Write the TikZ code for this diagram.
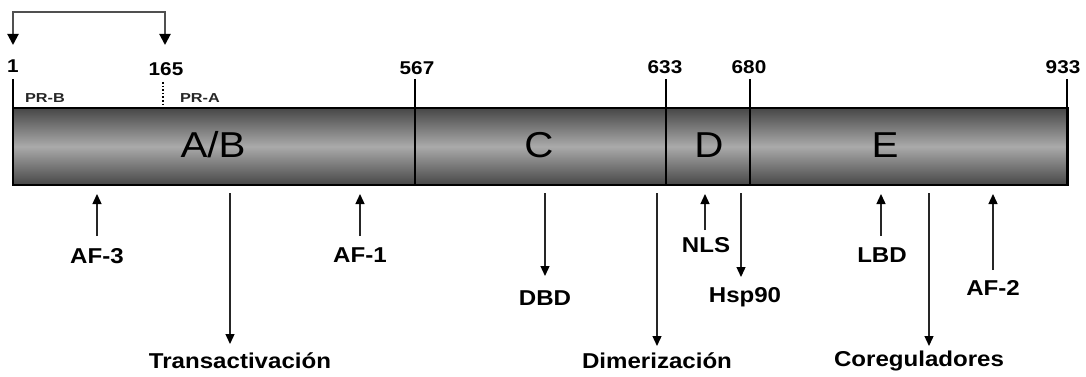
\documentclass[tikz,border=0pt]{standalone}
\usepackage{fontspec}
\setmainfont{Liberation Sans}
\newfontfamily\labfont[FakeStretch=1.12]{Liberation Sans}
\newfontfamily\prfont[FakeStretch=1.25]{Liberation Sans}
\usetikzlibrary{arrows.meta}
\definecolor{barDark}{HTML}{474747}
\definecolor{barLight}{HTML}{AAAAAA}
\definecolor{arrowGray}{HTML}{262626}
\definecolor{bracketGray}{HTML}{505050}
\begin{document}
\begin{tikzpicture}[x=1pt,y=-1pt,
  num/.style={font=\labfont\bfseries\fontsize{18.5}{20}\selectfont, inner sep=0pt, text=black},
  isoform/.style={font=\prfont\bfseries\fontsize{13}{15}\selectfont, inner sep=0pt, text=black!85},
  domletter/.style={font=\labfont\fontsize{36}{40}\selectfont, inner sep=0pt, text=black},
  lab/.style={font=\labfont\bfseries\fontsize{21.5}{24}\selectfont, inner sep=0pt, text=black},
  divider/.style={line width=2.2pt, black},
  pointer/.style={line width=1.3pt, arrowGray, -{Triangle[length=10pt,width=9pt,color=black]}},
  startbracket/.style={line width=2pt, bracketGray,
    {Triangle[length=11pt,width=11pt,color=black]}-{Triangle[length=11pt,width=11pt,color=black]}}
]
\useasboundingbox (0,0) rectangle (1086,377);

% receptor bar with shaded body
\shade[top color=barDark, bottom color=barDark, middle color=barLight]
  (13,108) rectangle (1068,185);
\draw[line width=2.4pt] (13,108) rectangle (1068,185);

% domain boundaries with their residue numbers
\coordinate (t1) at (13,79);      \coordinate (b1) at (13,185);
\coordinate (t567) at (415,79);   \coordinate (b567) at (415,185);
\coordinate (t633) at (666,79);   \coordinate (b633) at (666,185);
\coordinate (t680) at (750,79);   \coordinate (b680) at (750,185);
\coordinate (t933) at (1067,79);  \coordinate (b933) at (1067,185);
\foreach \p in {1,567,633,680,933} \draw[divider] (t\p) -- (b\p);

\node[num] (n1)   at (13,66)   {1};
\node[num] (n165) at (166,69)  {165};
\node[num] (n567) at (417,68)  {567};
\node[num] (n633) at (665,67)  {633};
\node[num] (n680) at (749,67)  {680};
\node[num] (n933) at (1063,67) {933};

% PR-A start marker
\coordinate (d1) at (163,82); \coordinate (d2) at (163,107);
\draw[line width=1.6pt, dotted] (d1) -- (d2);
\node[isoform] (prb) at (45,98)  {PR-B};
\node[isoform] (pra) at (200,98) {PR-A};

% bracket between the two start sites
\coordinate (s1) at (13,45); \coordinate (s165) at (165,45);
\draw[startbracket] (s1) -- (13,12) -- (165,12) -- (s165);

% domain letters
\node[domletter] (ab) at (213,145) {A/B};
\node[domletter] (c)  at (539,145) {C};
\node[domletter] (d)  at (709,145) {D};
\node[domletter] (e)  at (885,145) {E};

% functional labels below the bar
\node[lab] (af3)   at (97,256)  {AF-3};
\node[lab] (trans) at (240,361) {Transactivación};
\node[lab] (af1)   at (360,255) {AF-1};
\node[lab] (dbd)   at (545,298) {DBD};
\node[lab] (dim)   at (657,361) {Dimerización};
\node[lab] (nls)   at (706,245) {NLS};
\node[lab] (hsp)   at (745,297) {Hsp90};
\node[lab] (lbd)   at (882,255) {LBD};
\node[lab] (coreg) at (919,361) {Coreguladores};
\node[lab] (af2)   at (993,288) {AF-2};

% pointers up into the bar
\coordinate (af3a) at (97,236);  \coordinate (af3b) at (97,194);
\coordinate (af1a) at (360,236); \coordinate (af1b) at (360,194);
\coordinate (nlsa) at (705,230); \coordinate (nlsb) at (705,194);
\coordinate (lbda) at (881,236); \coordinate (lbdb) at (881,194);
\coordinate (af2a) at (993,270); \coordinate (af2b) at (993,194);
\foreach \k in {af3,af1,nls,lbd,af2} \draw[pointer] (\k a) -- (\k b);

% pointers down from the bar
\coordinate (transa) at (230,193); \coordinate (transb) at (230,344);
\coordinate (dbda)   at (545,193); \coordinate (dbdb)   at (545,276);
\coordinate (dima)   at (657,193); \coordinate (dimb)   at (657,346);
\coordinate (hspa)   at (741,193); \coordinate (hspb)   at (741,277);
\coordinate (corega) at (929,193); \coordinate (coregb) at (929,346);
\foreach \k in {trans,dbd,dim,hsp,coreg} \draw[pointer] (\k a) -- (\k b);
\end{tikzpicture}
\end{document}
